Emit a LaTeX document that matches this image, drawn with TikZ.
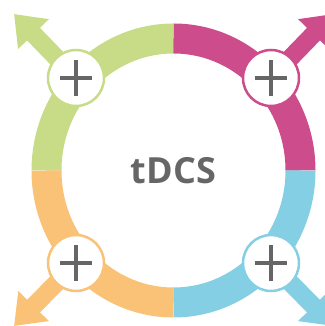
\documentclass[tikz,border=0pt]{standalone}
\usepackage{fontspec}
\setsansfont{Open Sans}
\usetikzlibrary{arrows.meta,backgrounds}
\definecolor{quadgreen}{HTML}{C8DC88}
\definecolor{quadpink}{HTML}{CC4C8C}
\definecolor{quadblue}{HTML}{84CFE4}
\definecolor{quadorange}{HTML}{FAC276}
\definecolor{plusgrey}{HTML}{666666}
\begin{document}
\begin{tikzpicture}[x=1pt,y=1pt,
  plus node/.style={circle,draw=#1,fill=white,line width=2.5pt,minimum size=56pt,inner sep=0pt,
    path picture={\draw[plusgrey,line width=4pt] (path picture bounding box.center) ++(-16,0) -- ++(32,0);
      \draw[plusgrey,line width=4pt] (path picture bounding box.center) ++(0,-18) -- ++(0,36);}},
  ring part/.style={line width=30pt},
  out arrow/.style={line width=18pt,-{Triangle[length=28pt,width=41pt]}}]
\clip (0,0) rectangle (324,326);
\coordinate (c) at (173.5,155.5);
% ring
\draw[ring part,quadgreen] (c) ++(90:127 and 132) arc[start angle=90,end angle=180,x radius=127,y radius=132];
\draw[ring part,quadpink] (c) ++(0:127 and 132) arc[start angle=0,end angle=90,x radius=127,y radius=132];
\draw[ring part,quadblue] (c) ++(270:127 and 132) arc[start angle=270,end angle=360,x radius=127,y radius=132];
\draw[ring part,quadorange] (c) ++(180:127 and 132) arc[start angle=180,end angle=270,x radius=127,y radius=132];
\node[font=\sffamily\bfseries\fontsize{36}{40}\selectfont,text=plusgrey] (title) at (c) {tDCS};
\begin{scope}
\node[plus node=quadgreen] (tl) at (76,248) {};%top left
\node[plus node=quadpink] (tr) at (271,248) {};%top right
\node[plus node=quadorange] (bl) at (76,63) {};%bottom left
\node[plus node=quadblue] (br) at (271,63) {};%bottom right
\end{scope}
\coordinate (tl tip) at (14,312);
\coordinate (tr tip) at (333,312);
\coordinate (bl tip) at (14,0);
\coordinate (br tip) at (333,0);
\begin{scope}[on background layer]
\draw[out arrow,quadgreen] (tl.center) -- (tl tip);
\draw[out arrow,quadpink] (tr.center) -- (tr tip);
\draw[out arrow,quadorange] (bl.center) -- (bl tip);
\draw[out arrow,quadblue] (br.center) -- (br tip);
\end{scope}
\end{tikzpicture}
\end{document}
